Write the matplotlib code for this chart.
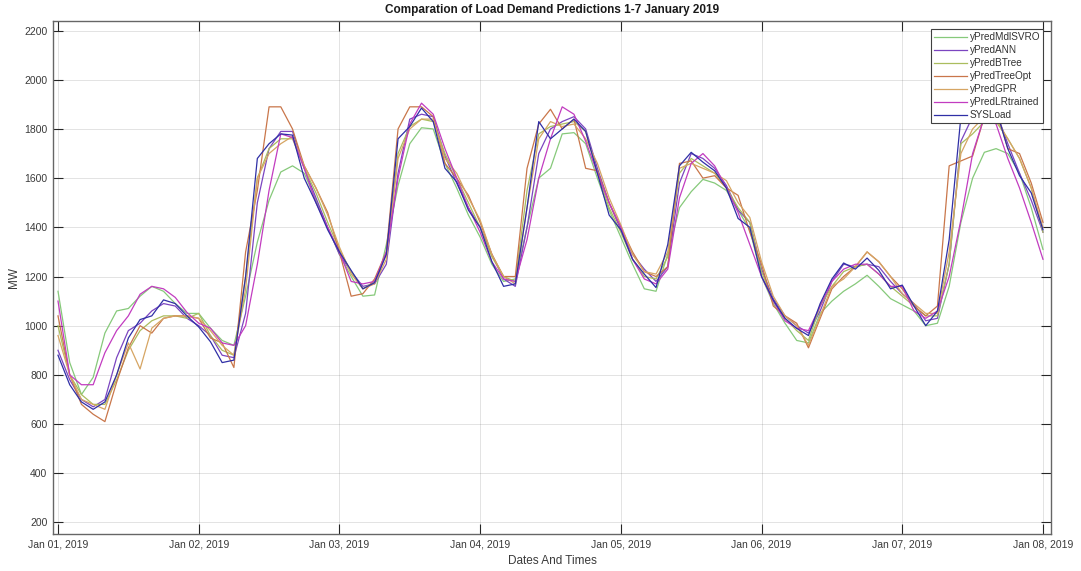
import numpy as np
import matplotlib
matplotlib.use("Agg")
import matplotlib.pyplot as plt

plt.rcParams['font.family'] = ['Liberation Sans', 'DejaVu Sans']

# ---- data (values every 2 hours, 1 Jan 2019 00:00 .. 8 Jan 2019 00:00) ----
hours = np.arange(0, 169, 2)

day_labels = ["Jan 01, 2019", "Jan 02, 2019", "Jan 03, 2019", "Jan 04, 2019",
              "Jan 05, 2019", "Jan 06, 2019", "Jan 07, 2019", "Jan 08, 2019"]
y_ticks = [200, 400, 600, 800, 1000, 1200, 1400, 1600, 1800, 2000, 2200]

yPredMdlSVRO = [1140, 850, 720, 790, 970, 1060, 1070, 1120, 1160, 1140, 1090, 1050,
                1050, 990, 940, 920, 1120, 1340, 1510, 1625, 1650, 1620, 1510, 1400,
                1290, 1200, 1120, 1125, 1330, 1570, 1740, 1805, 1800, 1660, 1560, 1450,
                1360, 1250, 1180, 1190, 1400, 1600, 1640, 1780, 1785, 1740, 1600, 1470,
                1360, 1250, 1150, 1140, 1290, 1480, 1545, 1595, 1580, 1550, 1470, 1390,
                1200, 1090, 1010, 940, 930, 1050, 1100, 1140, 1170, 1205, 1160, 1110,
                1085, 1060, 1000, 1010, 1160, 1420, 1600, 1705, 1720, 1700, 1620, 1480,
                1310]

yPredANN = [900, 780, 700, 670, 700, 870, 980, 1010, 1060, 1090, 1080, 1030,
            1000, 960, 880, 870, 1050, 1500, 1720, 1790, 1790, 1640, 1520, 1400,
            1290, 1220, 1160, 1170, 1250, 1620, 1840, 1860, 1850, 1690, 1580, 1480,
            1400, 1290, 1190, 1160, 1400, 1700, 1800, 1830, 1850, 1800, 1640, 1500,
            1390, 1290, 1230, 1180, 1240, 1580, 1700, 1680, 1640, 1570, 1470, 1420,
            1230, 1110, 1040, 1000, 970, 1060, 1180, 1250, 1240, 1250, 1240, 1180,
            1130, 1090, 1020, 1030, 1250, 1750, 1850, 1900, 1870, 1740, 1620, 1510,
            1380]

yPredBTree = [1000, 800, 720, 680, 680, 780, 900, 980, 1020, 1040, 1040, 1030,
              1050, 960, 900, 880, 1200, 1600, 1720, 1760, 1760, 1640, 1540, 1420,
              1310, 1220, 1150, 1180, 1290, 1700, 1810, 1840, 1830, 1700, 1600, 1500,
              1400, 1280, 1200, 1180, 1550, 1780, 1810, 1820, 1830, 1790, 1620, 1480,
              1380, 1270, 1200, 1190, 1280, 1620, 1680, 1650, 1620, 1560, 1480, 1420,
              1220, 1100, 1030, 980, 940, 1080, 1160, 1220, 1240, 1250, 1210, 1160,
              1120, 1080, 1040, 1040, 1250, 1740, 1780, 1830, 1830, 1760, 1680, 1560,
              1380]

yPredTreeOpt = [1040, 800, 680, 640, 610, 770, 910, 1000, 970, 1030, 1040, 1040,
                1030, 950, 930, 830, 1300, 1550, 1890, 1890, 1800, 1650, 1560, 1460,
                1300, 1120, 1130, 1190, 1300, 1800, 1890, 1890, 1850, 1660, 1600, 1530,
                1420, 1290, 1200, 1200, 1640, 1820, 1880, 1800, 1840, 1640, 1630, 1500,
                1400, 1300, 1220, 1200, 1240, 1660, 1670, 1600, 1610, 1560, 1530, 1380,
                1250, 1080, 1040, 1010, 910, 1030, 1150, 1200, 1240, 1300, 1260, 1200,
                1150, 1080, 1040, 1080, 1650, 1670, 1690, 1850, 1880, 1720, 1700, 1580,
                1420]

yPredGPR = [960, 800, 700, 680, 660, 800, 930, 824, 990, 1030, 1040, 1040,
            1030, 980, 920, 880, 1150, 1600, 1700, 1740, 1770, 1650, 1560, 1450,
            1320, 1210, 1150, 1170, 1270, 1680, 1800, 1840, 1840, 1680, 1620, 1520,
            1430, 1290, 1200, 1170, 1480, 1760, 1830, 1810, 1820, 1760, 1660, 1520,
            1410, 1290, 1220, 1210, 1300, 1640, 1660, 1640, 1620, 1590, 1500, 1440,
            1260, 1120, 1040, 1000, 920, 1040, 1160, 1190, 1240, 1300, 1260, 1200,
            1130, 1090, 1050, 1050, 1300, 1700, 1800, 1850, 1840, 1760, 1680, 1560,
            1400]

yPredLRtrained = [1100, 800, 760, 760, 890, 980, 1040, 1128, 1160, 1150, 1115, 1054,
                  1010, 990, 930, 920, 1000, 1250, 1550, 1780, 1765, 1640, 1500, 1400,
                  1300, 1180, 1170, 1180, 1300, 1600, 1820, 1905, 1860, 1720, 1600, 1480,
                  1380, 1260, 1190, 1180, 1350, 1600, 1760, 1890, 1860, 1750, 1620, 1500,
                  1400, 1270, 1190, 1170, 1230, 1520, 1660, 1700, 1650, 1560, 1460, 1330,
                  1200, 1100, 1020, 990, 980, 1080, 1180, 1230, 1250, 1250, 1210, 1160,
                  1160, 1060, 1030, 1060, 1200, 1430, 1700, 1850, 1820, 1680, 1560, 1420,
                  1270]

SYSLoad = [880, 760, 690, 660, 690, 800, 950, 1025, 1040, 1105, 1090, 1040,
           995, 935, 850, 860, 1200, 1680, 1740, 1780, 1775, 1600, 1500, 1390,
           1300, 1225, 1150, 1175, 1290, 1760, 1810, 1885, 1830, 1640, 1585, 1470,
           1400, 1260, 1160, 1170, 1480, 1830, 1760, 1800, 1840, 1790, 1620, 1450,
           1390, 1270, 1210, 1155, 1330, 1650, 1705, 1665, 1630, 1560, 1436, 1400,
           1200, 1104, 1030, 989, 960, 1090, 1190, 1255, 1230, 1275, 1225, 1150,
           1165, 1080, 1000, 1060, 1350, 1850, 1920, 1950, 1880, 1720, 1610, 1540,
           1390]

series = [
    ("yPredMdlSVRO", yPredMdlSVRO, "#86c97a"),
    ("yPredANN", yPredANN, "#7b45c0"),
    ("yPredBTree", yPredBTree, "#aabd5e"),
    ("yPredTreeOpt", yPredTreeOpt, "#c9764a"),
    ("yPredGPR", yPredGPR, "#d6a563"),
    ("yPredLRtrained", yPredLRtrained, "#c23cc0"),
    ("SYSLoad", SYSLoad, "#2f2fa6"),
]

# ---- figure ----
W, H = 1081, 571
fig = plt.figure(figsize=(W / 100, H / 100), dpi=100)
ax = fig.add_axes([53 / W, (H - 534) / H, 998 / W, 513 / H])

days = hours / 24.0
for name, vals, col in series:
    ax.plot(days, vals, color=col, lw=0.9, label=name)

ax.set_xlim(-0.0355, 7.057)
ax.set_ylim(153, 2239)
ax.set_xticks(range(len(day_labels)))
ax.set_xticklabels(day_labels)
ax.set_yticks(y_ticks)

ax.grid(True, color="#262626", alpha=0.15, lw=0.6)
ax.set_axisbelow(True)
ax.tick_params(direction="in", length=7, width=0.8, top=True, right=True,
               colors="#262626", labelsize=7.5, labelcolor="#3a3a3a", pad=4)
for s in ax.spines.values():
    s.set_color("#666666")
    s.set_linewidth(1.0)

ax.set_title("Comparation of Load Demand Predictions 1-7 January 2019",
             fontsize=8.5, fontweight="bold", color="#1a1a1a", pad=6)
ax.set_xlabel("Dates And Times", fontsize=8.5, color="#3a3a3a", labelpad=4)
ax.set_ylabel("MW", fontsize=8.5, color="#3a3a3a", labelpad=3)

leg = ax.legend(loc="upper right", bbox_to_anchor=(1 - 8 / 998, 1 - 8 / 513),
                borderaxespad=0, fontsize=7.2, handlelength=3.3,
                handletextpad=0.25, labelspacing=0.3, borderpad=0.3,
                fancybox=False, framealpha=1, edgecolor="#404040")
leg.get_frame().set_linewidth(0.8)
for t in leg.get_texts():
    t.set_color("#333333")

fig.savefig("out.png", dpi=100)
